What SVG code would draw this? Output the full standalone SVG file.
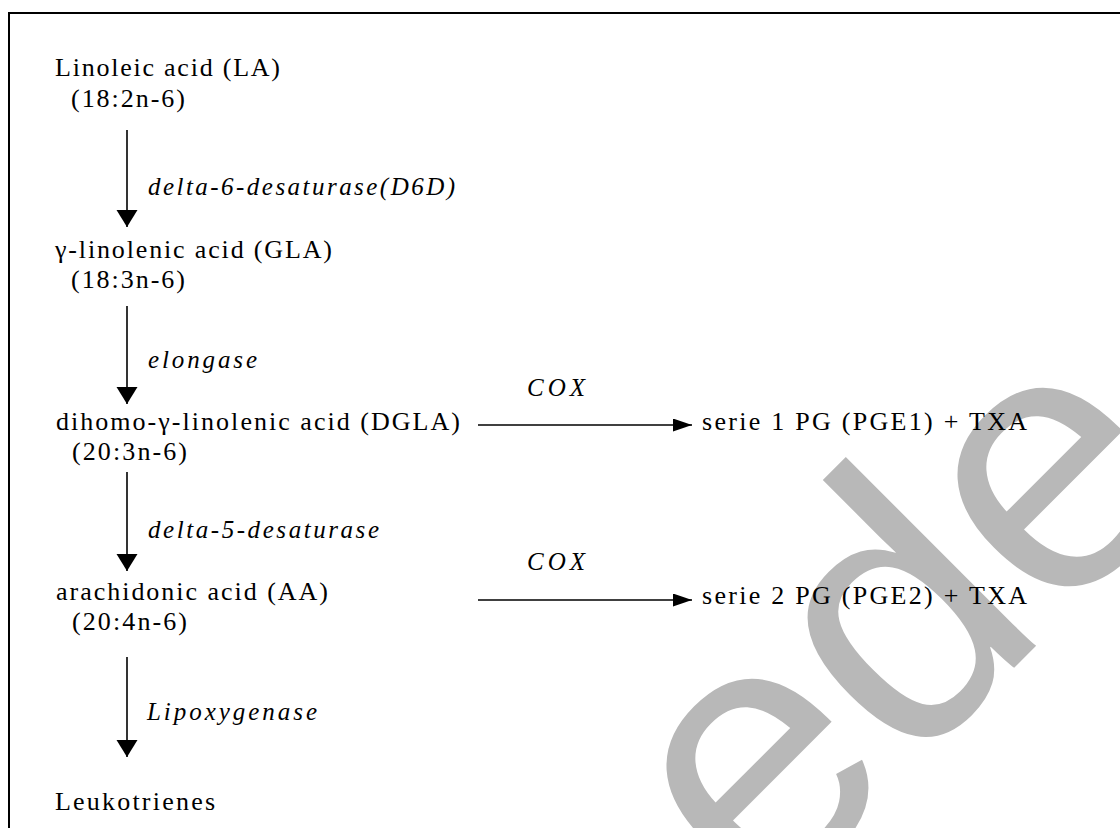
<svg xmlns="http://www.w3.org/2000/svg" width="1120" height="828" viewBox="0 0 1120 828">
<defs>
<style>
.t{font-family:"Liberation Serif","Times New Roman",serif;font-size:26px;fill:#000}
.i{font-family:"Liberation Serif","Times New Roman",serif;font-size:25px;font-style:italic;fill:#000}
.c{stroke:#000;stroke-width:1.6;fill:none}
.wm{font-family:"Liberation Sans",Arial,sans-serif;font-size:370px;fill:#b8b8b8}
</style>
<marker id="av" markerUnits="userSpaceOnUse" markerWidth="18" markerHeight="22" refX="17" refY="10.5" orient="auto">
<path d="M0,0 L17,10.5 L0,21 Z" fill="#000"/>
</marker>
<marker id="ah" markerUnits="userSpaceOnUse" markerWidth="20" markerHeight="14" refX="19" refY="6.5" orient="auto">
<path d="M0,0 L19,6.5 L0,13 Z" fill="#000"/>
</marker>
</defs>
<rect width="1120" height="828" fill="#fff"/>
<g id="watermark">
<text class="wm" transform="translate(762,920) rotate(-45)">ede</text>
</g>
<path d="M9,828 V13 H1120" stroke="#000" stroke-width="2" fill="none"/>
<g id="connectors">
<line class="c" x1="127" y1="130" x2="127" y2="227" marker-end="url(#av)"/>
<line class="c" x1="127" y1="306" x2="127" y2="404" marker-end="url(#av)"/>
<line class="c" x1="127" y1="472" x2="127" y2="571" marker-end="url(#av)"/>
<line class="c" x1="127" y1="657" x2="127" y2="757" marker-end="url(#av)"/>
<line class="c" x1="478" y1="425" x2="692" y2="425" marker-end="url(#ah)"/>
<line class="c" x1="478" y1="600" x2="692" y2="600" marker-end="url(#ah)"/>
<text class="i" x="148" y="195" textLength="307" lengthAdjust="spacing">delta-6-desaturase(D6D)</text>
<text class="i" x="148" y="368" textLength="109" lengthAdjust="spacing">elongase</text>
<text class="i" x="148" y="538" textLength="231" lengthAdjust="spacing">delta-5-desaturase</text>
<text class="i" x="147" y="720" textLength="170" lengthAdjust="spacing">Lipoxygenase</text>
<text class="i" x="527" y="396" textLength="58" lengthAdjust="spacing">COX</text>
<text class="i" x="527" y="570" textLength="58" lengthAdjust="spacing">COX</text>
</g>
<g id="LA">
<text class="t" x="55" y="76" textLength="225" lengthAdjust="spacing">Linoleic acid (LA)</text>
<text class="t" x="71" y="107" textLength="114" lengthAdjust="spacing">(18:2n-6)</text>
</g>
<g id="GLA">
<text class="t" x="55" y="258" textLength="277" lengthAdjust="spacing">γ-linolenic acid (GLA)</text>
<text class="t" x="71" y="288" textLength="114" lengthAdjust="spacing">(18:3n-6)</text>
</g>
<g id="DGLA">
<text class="t" x="56" y="430" textLength="404" lengthAdjust="spacing">dihomo-γ-linolenic acid (DGLA)</text>
<text class="t" x="72" y="460" textLength="115" lengthAdjust="spacing">(20:3n-6)</text>
</g>
<g id="AA">
<text class="t" x="56" y="600" textLength="272" lengthAdjust="spacing">arachidonic acid (AA)</text>
<text class="t" x="72" y="630" textLength="115" lengthAdjust="spacing">(20:4n-6)</text>
</g>
<g id="LT">
<text class="t" x="55" y="810" textLength="160" lengthAdjust="spacing">Leukotrienes</text>
</g>
<g id="PGE1">
<text class="t" x="702" y="430" textLength="325" lengthAdjust="spacing">serie 1 PG (PGE1) + TXA</text>
</g>
<g id="PGE2">
<text class="t" x="702" y="604" textLength="325" lengthAdjust="spacing">serie 2 PG (PGE2) + TXA</text>
</g>
</svg>
